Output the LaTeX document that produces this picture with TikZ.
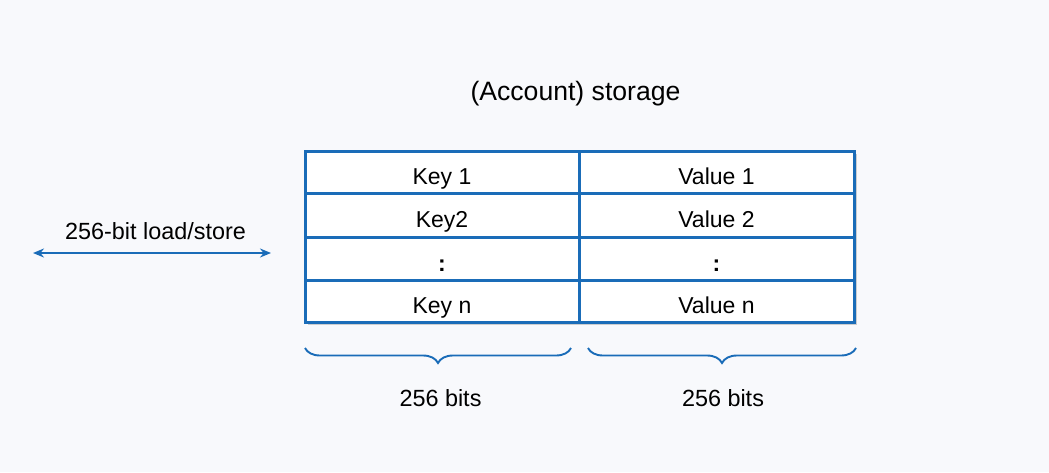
\documentclass[tikz,border=0pt]{standalone}
\usepackage{fontspec}
\setmainfont{Liberation Sans}
\usetikzlibrary{shadows,decorations.pathreplacing,arrows.meta}
\definecolor{bg}{RGB}{248,249,252}
\definecolor{tblue}{RGB}{26,108,184}
\tikzset{
  cell/.style={anchor=base,inner sep=0pt,font=\fontsize{23}{27}\selectfont,text=black},
  lbl/.style={anchor=base,inner sep=0pt,font=\fontsize{23.4}{27}\selectfont,text=black},
  ttl/.style={anchor=base,inner sep=0pt,font=\fontsize{26.6}{30}\selectfont,text=black},
  grid/.style={draw=tblue,line width=3pt},
  bracestyle/.style={draw=tblue,line width=1.9pt,decorate,decoration={brace,amplitude=15pt,mirror}},
  arr/.style={draw=tblue,line width=2.4pt,{Stealth[length=11pt,width=9pt]}-{Stealth[length=11pt,width=9pt]}}
}
\begin{document}
\begin{tikzpicture}[x=1pt,y=-1pt]
\fill[bg] (0,0) rectangle (1049,472);
\useasboundingbox (0,0) rectangle (1049,472);
% title
\node[ttl] (title) at (575.5,100) {(Account) storage};
% table box
\node[grid,fill=white,minimum width=549pt,minimum height=171pt,inner sep=0pt,outer sep=0pt,
      drop shadow={shadow xshift=3pt,shadow yshift=-3pt,opacity=0.4,fill=black!45}]
      (box) at (579.5,236.5) {};
\coordinate (r1l) at (305,193); \coordinate (r1r) at (854,193);
\coordinate (r2l) at (305,237); \coordinate (r2r) at (854,237);
\coordinate (r3l) at (305,280); \coordinate (r3r) at (854,280);
\coordinate (ct) at (579,151); \coordinate (cb) at (579,322);
\draw[grid] (r1l) -- (r1r);
\draw[grid] (r2l) -- (r2r);
\draw[grid] (r3l) -- (r3r);
\draw[grid] (ct) -- (cb);
% cells
\node[cell] (k1) at (442,184.5) {Key 1};
\node[cell] (k2) at (442,227.5) {Key2};
\node[cell] (k3) at (442,271) {\textbf{:}};
\node[cell] (k4) at (442,313.5) {Key n};
\node[cell] (v1) at (716.5,184.5) {Value 1};
\node[cell] (v2) at (716.5,227.5) {Value 2};
\node[cell] (v3) at (716.5,271) {\textbf{:}};
\node[cell] (v4) at (716.5,313.5) {Value n};
% load/store
\node[lbl] (ls) at (155.5,239) {256-bit load/store};
\coordinate (al) at (33,253);
\coordinate (ar) at (271,253);
\draw[arr] (al) -- (ar);
% braces
\coordinate (b1l) at (305,348); \coordinate (b1r) at (571,348);
\coordinate (b2l) at (588,348); \coordinate (b2r) at (856,348);
\draw[bracestyle] (b1l) -- (b1r);
\draw[bracestyle] (b2l) -- (b2r);
\node[lbl] (bits1) at (440.5,406) {256 bits};
\node[lbl] (bits2) at (723,406) {256 bits};
\end{tikzpicture}
\end{document}
